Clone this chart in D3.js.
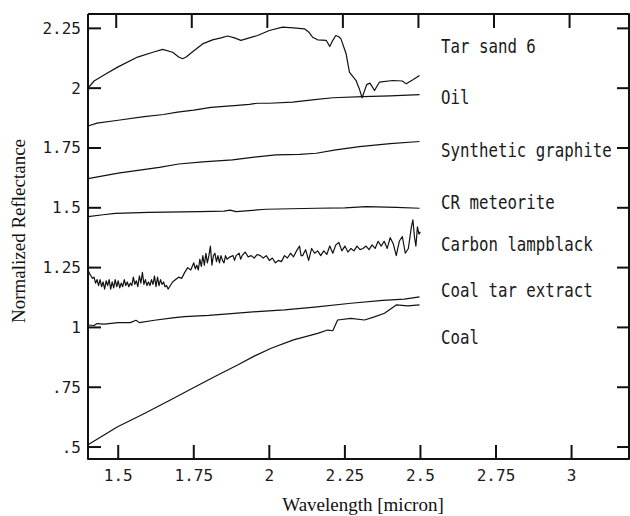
<!DOCTYPE html>
<html>
<head>
<meta charset="utf-8">
<script src="https://cdn.jsdelivr.net/npm/d3@7"></script>
</head>
<body style="margin:0;background:#fff">
<svg id="chart" width="630" height="516" style="display:block"></svg>
<script>
// тики осей
const xTicks = [1.5, 1.75, 2, 2.25, 2.5, 2.75, 3]
const yTicks = [0.5, 0.75, 1, 1.25, 1.5, 1.75, 2, 2.25]

// спектры: [длина волны, отражение]
const tarSand = [
  [1.4, 2.0], [1.42, 2.03], [1.46, 2.06], [1.498, 2.088], [1.564, 2.13], [1.62, 2.152],
  [1.647, 2.162], [1.68, 2.15], [1.70, 2.13], [1.713, 2.123], [1.725, 2.13], [1.741, 2.147],
  [1.779, 2.185], [1.812, 2.202], [1.84, 2.21], [1.862, 2.218], [1.885, 2.21], [1.906, 2.2],
  [1.934, 2.21], [1.961, 2.22], [2.0, 2.241], [2.044, 2.255], [2.08, 2.252], [2.116, 2.248],
  [2.13, 2.235], [2.143, 2.213], [2.16, 2.202], [2.188, 2.2], [2.2, 2.174], [2.21, 2.2],
  [2.22, 2.22], [2.23, 2.215], [2.237, 2.206], [2.254, 2.144], [2.265, 2.067], [2.287, 2.032],
  [2.297, 2.0], [2.307, 1.96], [2.322, 2.015], [2.333, 2.021], [2.348, 1.99], [2.364, 2.025],
  [2.408, 2.032], [2.44, 2.03], [2.453, 2.018], [2.475, 2.035], [2.497, 2.053]
]
const oil = [
  [1.4, 1.842], [1.43, 1.854], [1.5, 1.866], [1.586, 1.881], [1.65, 1.89], [1.696, 1.9],
  [1.75, 1.908], [1.807, 1.92], [1.85, 1.924], [1.884, 1.927], [1.934, 1.932], [1.961, 1.937],
  [2.0, 1.937], [2.077, 1.942], [2.15, 1.952], [2.21, 1.96], [2.31, 1.965], [2.4, 1.968],
  [2.497, 1.973]
]
const graphite = [
  [1.4, 1.622], [1.5, 1.645], [1.636, 1.669], [1.7, 1.683], [1.78, 1.692], [1.878, 1.70],
  [1.95, 1.712], [2.022, 1.721], [2.1, 1.723], [2.155, 1.728], [2.22, 1.742], [2.298, 1.756],
  [2.4, 1.768], [2.497, 1.777]
]
const crMeteorite = [
  [1.4, 1.463], [1.45, 1.471], [1.49, 1.477], [1.6, 1.481], [1.768, 1.484], [1.85, 1.486],
  [1.87, 1.49], [1.89, 1.484], [1.989, 1.494], [2.155, 1.498], [2.25, 1.5], [2.32, 1.505],
  [2.42, 1.502], [2.497, 1.498]
]
const lampblack = [
  [1.4, 1.24], [1.405, 1.225], [1.41, 1.215], [1.415, 1.205], [1.42, 1.21], [1.425, 1.185],
  [1.43, 1.2], [1.435, 1.175], [1.44, 1.2], [1.445, 1.17], [1.45, 1.19], [1.455, 1.16],
  [1.46, 1.195], [1.465, 1.175], [1.47, 1.2], [1.475, 1.16], [1.48, 1.19], [1.485, 1.165],
  [1.49, 1.2], [1.495, 1.17], [1.5, 1.195], [1.505, 1.165], [1.51, 1.185], [1.515, 1.17],
  [1.52, 1.2], [1.525, 1.175], [1.53, 1.19], [1.535, 1.17], [1.54, 1.185], [1.545, 1.175],
  [1.55, 1.21], [1.555, 1.18], [1.56, 1.195], [1.565, 1.17], [1.57, 1.215], [1.575, 1.185],
  [1.58, 1.23], [1.585, 1.18], [1.59, 1.2], [1.595, 1.175], [1.6, 1.19], [1.605, 1.175],
  [1.61, 1.2], [1.615, 1.18], [1.62, 1.215], [1.625, 1.17], [1.63, 1.21], [1.635, 1.175],
  [1.64, 1.2], [1.645, 1.18], [1.65, 1.19], [1.655, 1.17], [1.66, 1.175], [1.665, 1.16],
  [1.67, 1.17], [1.68, 1.19], [1.69, 1.2], [1.7, 1.21], [1.71, 1.205], [1.72, 1.23],
  [1.73, 1.25], [1.74, 1.24], [1.75, 1.27], [1.755, 1.245], [1.76, 1.26], [1.765, 1.24],
  [1.77, 1.285], [1.775, 1.255], [1.78, 1.3], [1.785, 1.26], [1.79, 1.31], [1.795, 1.27],
  [1.8, 1.3], [1.805, 1.34], [1.81, 1.26], [1.815, 1.3], [1.82, 1.31], [1.825, 1.275],
  [1.83, 1.3], [1.835, 1.27], [1.84, 1.3], [1.845, 1.28], [1.85, 1.27], [1.855, 1.3],
  [1.86, 1.285], [1.87, 1.295], [1.88, 1.3], [1.885, 1.28], [1.89, 1.3], [1.9, 1.31],
  [1.905, 1.285], [1.91, 1.3], [1.92, 1.315], [1.93, 1.295], [1.94, 1.3], [1.95, 1.29],
  [1.96, 1.305], [1.97, 1.3], [1.98, 1.29], [1.99, 1.3], [2.0, 1.28], [2.01, 1.29],
  [2.02, 1.27], [2.03, 1.28], [2.04, 1.275], [2.05, 1.3], [2.06, 1.29], [2.07, 1.31],
  [2.08, 1.295], [2.09, 1.32], [2.1, 1.34], [2.105, 1.3], [2.11, 1.3], [2.12, 1.325],
  [2.13, 1.28], [2.14, 1.33], [2.15, 1.31], [2.16, 1.32], [2.17, 1.3], [2.18, 1.32],
  [2.19, 1.305], [2.2, 1.34], [2.21, 1.31], [2.22, 1.345], [2.23, 1.355], [2.24, 1.32],
  [2.25, 1.34], [2.26, 1.315], [2.27, 1.33], [2.28, 1.32], [2.29, 1.34], [2.3, 1.325],
  [2.31, 1.33], [2.32, 1.34], [2.33, 1.325], [2.34, 1.345], [2.35, 1.33], [2.36, 1.36],
  [2.37, 1.34], [2.38, 1.36], [2.39, 1.33], [2.4, 1.375], [2.41, 1.35], [2.42, 1.3],
  [2.43, 1.36], [2.44, 1.38], [2.45, 1.31], [2.46, 1.33], [2.47, 1.42], [2.475, 1.45],
  [2.48, 1.38], [2.485, 1.34], [2.49, 1.42], [2.495, 1.39], [2.5, 1.4]
]
const coalTar = [
  [1.4, 1.01], [1.42, 1.008], [1.43, 1.016], [1.454, 1.014], [1.5, 1.02], [1.54, 1.02],
  [1.559, 1.03], [1.57, 1.02], [1.62, 1.03], [1.68, 1.04], [1.719, 1.045], [1.8, 1.05],
  [1.884, 1.059], [1.96, 1.066], [2.05, 1.073], [2.15, 1.085], [2.27, 1.101], [2.375, 1.113],
  [2.447, 1.118], [2.497, 1.128]
]
const coal = [
  [1.4, 0.51], [1.498, 0.585], [1.58, 0.636], [1.663, 0.69], [1.752, 0.75], [1.82, 0.795],
  [1.895, 0.843], [1.95, 0.88], [2.006, 0.913], [2.08, 0.948], [2.16, 0.975], [2.193, 0.989],
  [2.21, 0.986], [2.226, 1.031], [2.27, 1.038], [2.315, 1.031], [2.35, 1.045], [2.381, 1.059],
  [2.42, 1.094], [2.458, 1.09], [2.497, 1.094]
]

const seriesNames = ['Tar sand 6', 'Oil', 'Synthetic graphite', 'CR meteorite',
  'Carbon lampblack', 'Coal tar extract', 'Coal']
const seriesData = [tarSand, oil, graphite, crMeteorite, lampblack, coalTar, coal]
const labelY = [53, 104, 156.5, 208.5, 250.5, 296.5, 343.5]

const svg = d3.select('#chart')
const frameL = 88, frameR = 629, frameT = 14, frameB = 459
const mono = '"DejaVu Sans Mono", monospace'
const serif = '"Liberation Serif", "Times New Roman", serif'

const x = d3.scaleLinear().domain([1.4, 3.2]).range([88, 632])
const y = d3.scaleLinear().domain([0.45, 2.31]).range([459, 14])

const fmt = d => String(d).replace(/^0\./, '.')

// засечки: x-тики как отрезки, построенные d3.line через шкалы
const tickGen = d3.line()
const xTickSegs = xTicks.flatMap(d => [
    [[x(d), frameB], [x(d), frameB - 14]],
    [[x(d) - 2, frameT], [x(d) - 2, frameT + 14]]
])
const yTickSegs = yTicks.flatMap(d => [
    [[frameL, y(d)], [frameL + 13, y(d)]],
    [[frameR, y(d)], [frameR - 12, y(d)]]
])

// кривые и засечки одним соединением данных
const lineGen = d3.line().x(d => x(d[0])).y(d => y(d[1]))
const paths = seriesData.map(lineGen).concat(xTickSegs.concat(yTickSegs).map(tickGen))

// рамка как путь
const frameD = tickGen([[frameL, frameT], [frameR, frameT], [frameR, frameB], [frameL, frameB], [frameL, frameT]])

svg.selectAll('path.mark')
    .data(paths.concat([frameD]))
    .enter()
    .append('path')
    .attr('class', 'mark')
    .attr('fill', 'none')
    .attr('stroke', '#111')
    .attr('stroke-width', (d, i) => i < seriesData.length ? 1.2 : 2)
    .attr('stroke-linejoin', 'round')
    .attr('d', d => d)

// подписи тиков
svg.selectAll('text.xlab').data(xTicks).enter().append('text')
    .attr('class', 'xlab')
    .attr('x', d => x(d)).attr('y', frameB + 22)
    .attr('text-anchor', 'middle')
    .attr('font-family', mono).attr('font-size', 16).attr('fill', '#1a1a1a')
    .text(fmt)
svg.selectAll('text.ylab').data(yTicks).enter().append('text')
    .attr('class', 'ylab')
    .attr('x', frameL - 7).attr('y', d => y(d) + 5.5)
    .attr('text-anchor', 'end')
    .attr('font-family', mono).attr('font-size', 16).attr('fill', '#1a1a1a')
    .text(fmt)

svg.selectAll('text.label')
    .data(seriesNames)
    .enter()
    .append('text')
    .attr('class', 'label')
    .attr('font-family', mono).attr('font-size', 19).attr('fill', '#1a1a1a')
    .attr('transform', (d, i) => `translate(441,${labelY[i]}) scale(0.83,1)`)
    .text(d => d)

svg.append('text')
    .attr('font-family', serif).attr('font-size', 19).attr('fill', '#111')
    .attr('text-anchor', 'middle')
    .attr('x', 363).attr('y', 511)
    .text('Wavelength [micron]')

svg.append('text')
    .attr('font-family', serif).attr('font-size', 19).attr('fill', '#111')
    .attr('text-anchor', 'middle')
    .attr('transform', 'translate(25,231) rotate(-90)')
    .text('Normalized Reflectance')
</script>
</body>
</html>
